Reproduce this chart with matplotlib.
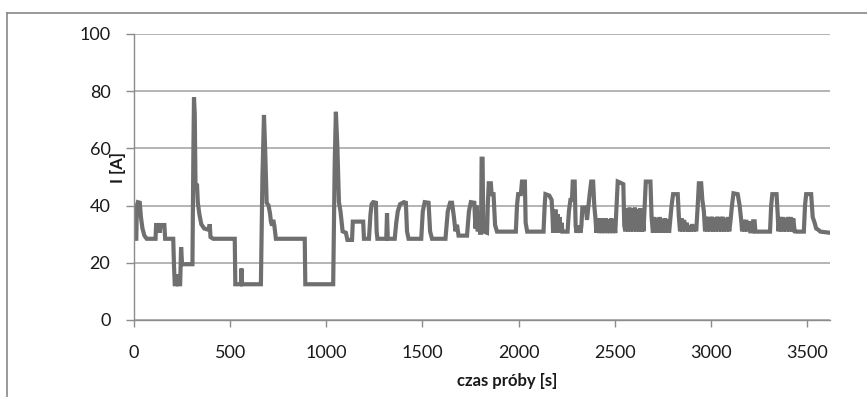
import matplotlib
matplotlib.use("Agg")
import matplotlib.pyplot as plt
from matplotlib.lines import Line2D

# czas [s] i prad [A]
czas = [
    0, 12, 15, 20, 30, 36, 44, 54, 66, 112, 115, 130, 134, 138, 158, 162, 204, 208, 212, 222,
    226, 230, 240, 245, 250, 304, 309, 312, 316, 320, 328, 332, 340, 350, 365, 390, 394, 398, 412, 524,
    527, 556, 559, 562, 660, 668, 676, 682, 690, 700, 708, 712, 718, 724, 730, 738, 888, 891, 1036, 1044,
    1050, 1058, 1066, 1074, 1085, 1102, 1110, 1134, 1138, 1192, 1196, 1222, 1230, 1236, 1244, 1258, 1262, 1266, 1312, 1316,
    1320, 1356, 1364, 1372, 1384, 1404, 1414, 1420, 1428, 1494, 1502, 1512, 1532, 1540, 1550, 1620, 1632, 1644, 1654, 1664,
    1672, 1680, 1688, 1732, 1742, 1752, 1770, 1776, 1782, 1788, 1794, 1800, 1805, 1808, 1813, 1817, 1836, 1840, 1845, 1856,
    1860, 1870, 1878, 1888, 1986, 1992, 1998, 2012, 2018, 2033, 2037, 2045, 2130, 2136, 2140, 2160, 2172, 2176, 2180, 2188,
    2194, 2198, 2204, 2208, 2214, 2218, 2224, 2228, 2255, 2262, 2270, 2278, 2282, 2292, 2297, 2302, 2307, 2312, 2317, 2322,
    2327, 2332, 2350, 2356, 2362, 2370, 2378, 2388, 2394, 2400, 2405, 2412, 2419, 2426, 2433, 2440, 2447, 2454, 2461, 2468,
    2475, 2482, 2489, 2496, 2503, 2510, 2516, 2530, 2545, 2550, 2556, 2563, 2570, 2577, 2584, 2591, 2598, 2605, 2612, 2619,
    2626, 2633, 2640, 2645, 2650, 2656, 2662, 2686, 2692, 2699, 2706, 2713, 2720, 2727, 2734, 2741, 2748, 2755, 2762, 2769,
    2776, 2783, 2790, 2796, 2804, 2828, 2834, 2840, 2847, 2854, 2861, 2868, 2875, 2882, 2889, 2896, 2903, 2910, 2917, 2924,
    2932, 2938, 2950, 2956, 2964, 2970, 2977, 2984, 2991, 2998, 3005, 3012, 3019, 3026, 3033, 3040, 3047, 3054, 3061, 3068,
    3075, 3082, 3089, 3096, 3103, 3110, 3118, 3140, 3150, 3158, 3163, 3170, 3177, 3184, 3191, 3198, 3205, 3215, 3220, 3228,
    3232, 3308, 3314, 3320, 3342, 3348, 3352, 3359, 3366, 3373, 3380, 3387, 3394, 3401, 3408, 3415, 3422, 3429, 3436, 3444,
    3484, 3490, 3496, 3522, 3530, 3540, 3548, 3560, 3570, 3620,
]
prad = [
    28.4, 28.4, 40, 41.2, 41, 36, 32, 29.5, 28.4, 28.4, 33.2, 33.2, 30.5, 33.2, 33.2, 28.4, 28.4, 19, 12.5, 12.5,
    16, 12.5, 12.5, 25.5, 19.5, 19.5, 60, 77.8, 72, 47, 47, 41, 37, 33.5, 32, 31.5, 33.5, 29, 28.4, 28.4,
    12.5, 12.5, 18, 12.5, 12.5, 50, 71.7, 60, 41, 40, 37, 34.4, 33, 35, 33, 28.4, 28.4, 12.5, 12.5, 55,
    72.8, 60, 41.2, 38, 31, 30.5, 28, 28, 34.4, 34.4, 28.4, 28.4, 37, 40.5, 41.2, 41, 31, 28.4, 28.4, 37.4,
    28.4, 28.4, 34, 38, 40.5, 41.2, 41, 31, 28.4, 28.4, 38, 41.2, 41, 31, 28.4, 28.4, 38, 41, 41, 36,
    31, 33.3, 29.5, 29.5, 38, 41.2, 41, 32, 40, 31, 38, 30.5, 30.5, 56.4, 56.4, 31, 30.5, 40, 47.8, 47.8,
    44, 44, 33.2, 30.9, 30.9, 40, 44, 44, 48.4, 48.4, 34, 30.9, 30.9, 40, 44, 43.5, 42, 37.5, 30.5, 38,
    38, 30.5, 37, 30.5, 36, 30.5, 34, 30.9, 30.9, 38, 42, 42, 48.4, 48.4, 33, 30.5, 33, 30.5, 33, 30.5,
    33, 39.3, 39.3, 35, 39, 44, 48.4, 48.4, 40, 35.6, 30.5, 35.6, 30.4, 35.6, 30.4, 35.4, 30.4, 35.6, 30.4, 35.2,
    30.4, 35.6, 30.4, 35, 30.4, 40, 48.4, 48, 47.5, 33, 31, 39, 31, 39.3, 31, 39, 31, 39.3, 31, 38.8,
    31, 39, 31, 35.6, 31, 40, 48.4, 48.4, 36, 30.5, 36, 30.5, 35.6, 30.5, 36, 30.5, 35.4, 30.5, 35.6, 30.5,
    35.2, 30.5, 35.6, 40, 44, 44, 36, 31, 35.6, 31, 35, 31, 34, 31, 33, 31, 33.5, 31, 33, 31,
    40, 47.8, 47.8, 42, 38, 31, 36.1, 31, 36, 31, 36.1, 31, 35.8, 31, 36.1, 31, 36, 31, 36.1, 31,
    35.6, 31, 36, 31, 35, 40, 44.3, 44, 40, 35, 31, 35, 31, 35, 31, 34.5, 31, 31, 34.5, 34.5,
    30.9, 30.9, 40, 44, 44, 37, 31, 36, 31, 36, 31, 35.6, 31, 36, 31, 36, 31, 35.5, 31, 30.9,
    30.9, 40, 44, 44, 36, 34, 32, 31.5, 30.9, 30.5,
]

y_ticks = [0, 20, 40, 60, 80, 100]
x_ticks = [0, 500, 1000, 1500, 2000, 2500, 3000, 3500]

plt.rcParams['font.family'] = ['Lato', 'DejaVu Sans']

W, H = 867, 397
fig = plt.figure(figsize=(W / 100, H / 100), dpi=100)
ax = fig.add_axes([134 / W, 1 - 320 / H, (830 - 134) / W, (320 - 34) / H])

ax.plot(czas, prad, color='#6f6f6f', lw=3.0, solid_joinstyle='miter')

ax.set_xlim(0, 3620)
ax.set_ylim(0, 100)
ax.set_yticks(y_ticks)
ax.set_xticks(x_ticks)
ax.grid(axis='y', color='#a8a8a8', lw=1.2)
ax.set_axisbelow(True)
for s in ['top', 'right']:
    ax.spines[s].set_visible(False)
for s in ['left', 'bottom']:
    ax.spines[s].set_color('#8c8c8c')
    ax.spines[s].set_linewidth(1.0)
ax.tick_params(axis='y', direction='out', length=6, width=1, color='#8c8c8c',
               labelsize=13, pad=11, labelcolor='#1a1a1a')
ax.tick_params(axis='x', direction='out', length=5, width=1, color='#8c8c8c',
               labelsize=13, pad=13, labelcolor='#1a1a1a')

fig.text(118 / W, 1 - 168 / H, 'I [A]', rotation=90, ha='center', va='center',
         fontsize=12, fontweight='bold', color='#1a1a1a')
fig.text(507 / W, 1 - 381 / H, 'czas próby [s]', ha='center', va='center',
         fontsize=12, fontweight='bold', color='#1a1a1a')

# ramka wykresu
fig.add_artist(Line2D([7 / W, 1.0], [1 - 13 / H, 1 - 13 / H], color='#888888', lw=1.2))
fig.add_artist(Line2D([7 / W, 7 / W], [0.0, 1 - 13 / H], color='#888888', lw=1.2))

fig.savefig('out.png', dpi=100)
